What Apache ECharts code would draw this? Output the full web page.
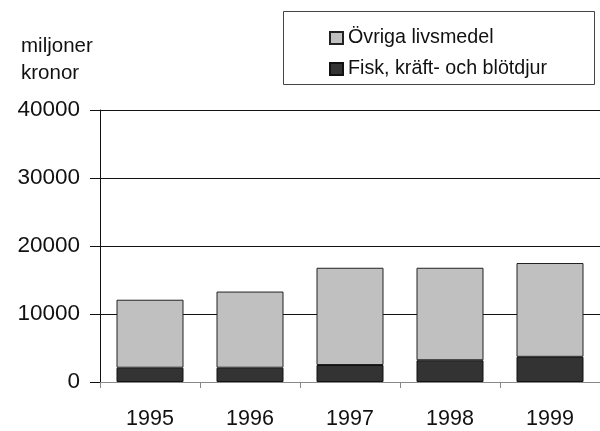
<!DOCTYPE html>
<html>
<head>
<meta charset="utf-8">
<script src="https://cdn.jsdelivr.net/npm/echarts@6/dist/echarts.min.js"></script>
<style>
  html, body { margin: 0; padding: 0; background: #fff; }
  #chart { width: 600px; height: 431px; }
</style>
</head>
<body>
<div id="chart"></div>
<script>
// Import values, miljoner kronor
const years = ['1995', '1996', '1997', '1998', '1999'];
const fisk = [2100, 2100, 2500, 3200, 3700];       // Fisk, kräft- och blötdjur
const ovriga = [10000, 11200, 14300, 13600, 13800]; // Övriga livsmedel (stacked on top)
const yTicks = [0, 10000, 20000, 30000, 40000];

const FONT = '"Liberation Sans", Arial, Helvetica, sans-serif';

const chart = echarts.init(document.getElementById('chart'), null, { renderer: 'canvas' });

chart.setOption({
  backgroundColor: '#ffffff',
  animation: false,
  title: {
    text: 'miljoner\nkronor',
    left: 16,
    top: 28,
    textStyle: { fontFamily: FONT, fontSize: 20.5, fontWeight: 'normal', color: '#111', lineHeight: 27 }
  },
  graphic: [{
    type: 'rect',
    shape: { x: 283.5, y: 11.5, width: 311, height: 73 },
    style: { fill: 'none', stroke: '#444', lineWidth: 1 },
    silent: true
  }],
  legend: {
    orient: 'vertical',
    left: 329,
    top: 28,
    icon: 'rect',
    itemWidth: 13,
    itemHeight: 12,
    itemGap: 11,
    padding: 0,
    data: ['Övriga livsmedel', 'Fisk, kräft- och blötdjur'],
    textStyle: { fontFamily: FONT, fontSize: 19.7, color: '#111', lineHeight: 18 }
  },
  grid: { left: 100, right: 0, top: 110, bottom: 49, containLabel: false },
  xAxis: {
    type: 'category',
    data: years,
    axisLine: { lineStyle: { color: '#888', width: 1 } },
    axisTick: { show: true, length: 6, lineStyle: { color: '#888' } },
    axisLabel: { fontFamily: FONT, fontSize: 21.5, color: '#111', margin: 26 }
  },
  yAxis: {
    type: 'value',
    min: 0,
    max: 40000,
    interval: 10000,
    axisLine: { show: true, lineStyle: { color: '#111', width: 1 } },
    axisTick: { show: true, length: 10, lineStyle: { color: '#111' } },
    axisLabel: {
      fontFamily: FONT, fontSize: 22.5, color: '#111', margin: 20,
      formatter: v => (yTicks.indexOf(v) >= 0 ? String(v) : '')
    },
    splitLine: { show: true, lineStyle: { color: '#111', width: 1 } }
  },
  series: [
    {
      name: 'Fisk, kräft- och blötdjur',
      type: 'bar',
      stack: 'total',
      data: fisk,
      barWidth: '67%',
      itemStyle: { color: '#333333', borderColor: '#111', borderWidth: 1 }
    },
    {
      name: 'Övriga livsmedel',
      type: 'bar',
      stack: 'total',
      data: ovriga,
      barWidth: '67%',
      itemStyle: { color: '#c0c0c0', borderColor: '#222', borderWidth: 1 }
    }
  ]
});
</script>
</body>
</html>
